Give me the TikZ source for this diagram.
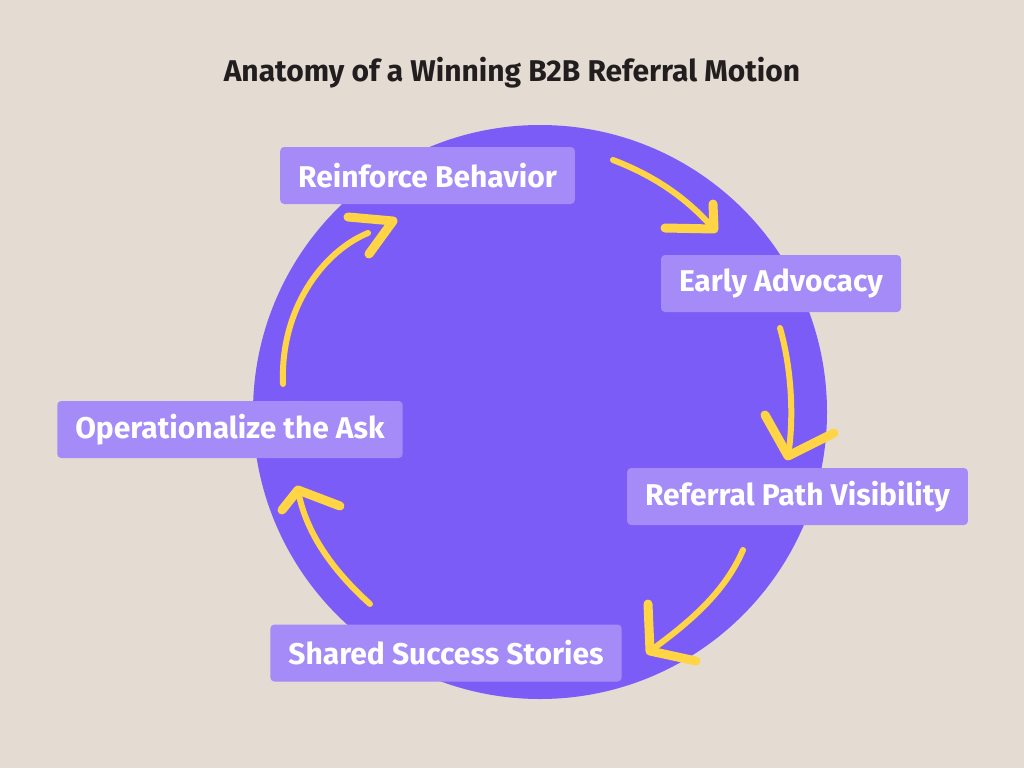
\documentclass[tikz,border=0pt]{standalone}
\usepackage{fontspec}
\setmainfont{Fira Sans}
\usepackage{tikz}
\usetikzlibrary{calc}
\definecolor{bgsand}{HTML}{E4DCD2}
\definecolor{discpurple}{HTML}{7C5CF6}
\definecolor{tagpurple}{HTML}{A48BF8}
\definecolor{brushyellow}{HTML}{FFD445}
\definecolor{titleink}{HTML}{221E1F}
\tikzset{
  stage/.style={shape=rectangle,fill=tagpurple,rounded corners=4pt,minimum height=57pt,inner xsep=18pt,text=white,font=\fontsize{30}{34}\selectfont\bfseries},
  brush/.style={draw=brushyellow,line width=6pt,line cap=round,line join=round},
  brushhead/.style={brush,line width=9pt},
}
\begin{document}
\begin{tikzpicture}[x=1pt,y=-1pt]
\fill[bgsand] (0,0) rectangle (1024,768);
\useasboundingbox (0,0) rectangle (1024,768);
\node (title) at (512,73) [text=titleink,font=\fontsize{30}{34}\selectfont\bfseries] {Anatomy of a Winning B2B Referral Motion};
\fill[discpurple] (540,412) circle (287);
\node (reinforce) at (427.5,175.5) [stage] {Reinforce Behavior};
\node (early) at (781,283.5) [stage] {Early Advocacy};
\node (path) at (797.5,496.5) [stage] {Referral Path Visibility};
\node (shared) at (446,653) [stage] {Shared Success Stories};
\node (operate) at (230,429.5) [stage] {Operationalize the Ask};
% arrow 1
\coordinate (a1s) at (613,160);
\coordinate (a1t) at (714,229);
\draw[brush] (a1s) .. controls (660,178) and (690,202) .. (a1t);
\draw[brushhead] (665,228) -- (a1t) -- (713,204);
% arrow 2
\coordinate (a2s) at (780,328);
\coordinate (a2t) at (788,456);
\draw[brush] (a2s) .. controls (792,370) and (794,420) .. (a2t);
\draw[brushhead] (765,415) -- (a2t) -- (834,433);
% arrow 3
\coordinate (a3s) at (743,550);
\coordinate (a3t) at (650,651);
\draw[brush] (a3s) .. controls (725,592) and (690,622) .. (a3t);
\draw[brushhead] (648,604) -- (a3t) -- (696,661);
% arrow 4
\coordinate (a4s) at (370,604);
\coordinate (a4t) at (298,490);
\draw[brush] (a4s) .. controls (330,568) and (305,530) .. (a4t);
\draw[brushhead] (282,510) -- (a4t) -- (340,506);
% arrow 5
\coordinate (a5s) at (283,384);
\coordinate (a5t) at (393,221);
\draw[brush] (a5s) .. controls (280,310) and (322,252) .. (368,233);
\draw[brushhead] (348,217) -- (a5t) -- (369,254);
\end{tikzpicture}
\end{document}
